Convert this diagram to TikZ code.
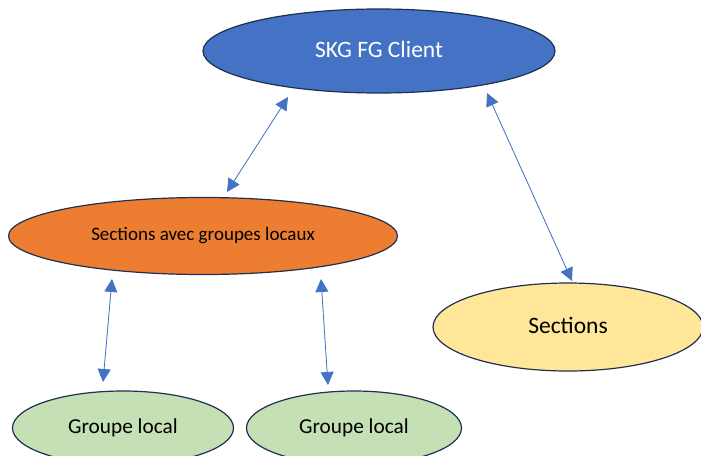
\documentclass[tikz,border=0pt]{standalone}
\usepackage{fontspec}
\setmainfont{Carlito}
\usetikzlibrary{shapes.geometric,arrows.meta}
\definecolor{skgblue}{HTML}{4472C4}
\definecolor{outl}{HTML}{1F3050}
\definecolor{orng}{HTML}{ED7D31}
\definecolor{yell}{HTML}{FFE699}
\definecolor{grn}{HTML}{C5E0B4}
\tikzset{
  ell/.style={ellipse, draw=outl, line width=1.2pt, inner sep=0pt},
  link/.style={draw=skgblue, line width=0.8pt, {Triangle[length=13pt,width=13pt]}-{Triangle[length=13pt,width=13pt]}, fill=skgblue},
}
\begin{document}
\begin{tikzpicture}[x=1pt,y=-1pt]
\useasboundingbox (0,0) rectangle (701,455);
\begin{scope}
\clip (0,0) rectangle (701,455);
\node[ell, fill=skgblue, minimum width=352pt, minimum height=84pt, text=white, font=\fontsize{23.5}{26}\selectfont] (client) at (379,51) {\raisebox{3pt}{SKG FG Client}};
\node[ell, fill=orng, minimum width=389pt, minimum height=77pt, font=\fontsize{19}{22}\selectfont] (swg) at (203,236) {\raisebox{3pt}{Sections avec groupes locaux}};
\node[ell, fill=yell, minimum width=270pt, minimum height=88pt, font=\fontsize{23.5}{26}\selectfont] (sec) at (568,327) {\raisebox{3pt}{Sections}};
\node[ell, fill=grn, minimum width=221pt, minimum height=74pt, font=\fontsize{21.3}{24}\selectfont] (g1) at (123,428) {\raisebox{2pt}{Groupe local}};
\node[ell, fill=grn, minimum width=215pt, minimum height=74pt, font=\fontsize{21.3}{24}\selectfont] (g2) at (354,428) {\raisebox{2pt}{Groupe local}};
\end{scope}
\coordinate (a1) at (288,97);  \coordinate (b1) at (227,192);
\coordinate (a2) at (487,93);  \coordinate (b2) at (572,281);
\coordinate (a3) at (112,279); \coordinate (b3) at (103,382);
\coordinate (a4) at (321,279); \coordinate (b4) at (328,385);
\draw[link] (a1) -- (b1);
\draw[link] (a2) -- (b2);
\draw[link] (a3) -- (b3);
\draw[link] (a4) -- (b4);
\end{tikzpicture}
\end{document}
